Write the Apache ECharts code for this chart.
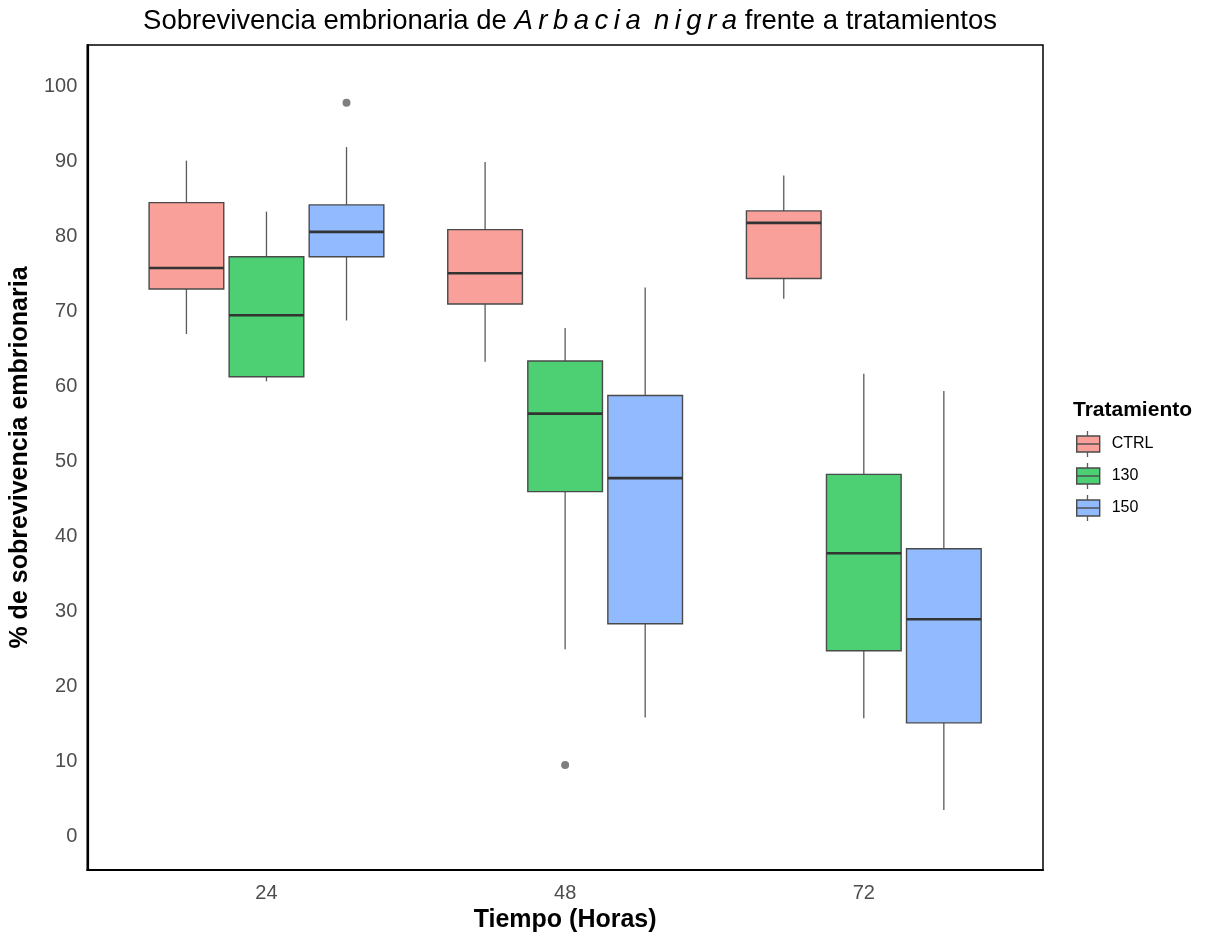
<!DOCTYPE html>
<html>
<head>
<meta charset="utf-8">
<script src="https://cdn.jsdelivr.net/npm/echarts@6/dist/echarts.min.js"></script>
<style>
html,body{margin:0;padding:0;background:#fff;}
#chart{width:1212px;height:940px;}
</style>
</head>
<body>
<div id="chart"></div>
<script>
// ---- data ----
const categories = ['24', '48', '72'];
const treatments = ['CTRL', '130', '150'];
// each row: [lowerWhisker, Q1, median, Q3, upperWhisker] per time category
const ctrlStats = [
  [67.0, 73.0, 75.8, 84.5, 90.1],
  [63.3, 71.0, 75.1, 80.9, 89.9],
  [71.7, 74.4, 81.8, 83.4, 88.1]
];
const t130Stats = [
  [60.7, 61.3, 69.5, 77.3, 83.3],
  [25.0, 46.0, 56.4, 63.4, 67.8],
  [15.8, 24.8, 37.8, 48.3, 61.7]
];
const t150Stats = [
  [68.8, 77.3, 80.6, 84.2, 91.9],
  [15.9, 28.4, 47.8, 58.8, 73.2],
  [3.6, 15.2, 29.0, 38.4, 59.4]
];
const outlierCats = ['24', '48'];
const outlierTrts = ['150', '130'];
const outlierVals = [97.8, 9.6];
const yTicks = [0, 10, 20, 30, 40, 50, 60, 70, 80, 90, 100];

const fillColors = ['#F9A09A', '#4DCF74', '#91BAFF'];
const statsByTrt = [ctrlStats, t130Stats, t150Stats];
const dodge = 0.268;      // spacing between dodged boxes (category units)
const boxW = 0.25;        // box width (category units)
const offsets = [-dodge, 0, dodge];

function renderBox(params, api) {
  const x = api.value(0);
  const lo = api.value(1), q1 = api.value(2), med = api.value(3), q3 = api.value(4), hi = api.value(5);
  const pLo = api.coord([x, lo]);
  const pQ1 = api.coord([x, q1]);
  const pMed = api.coord([x, med]);
  const pQ3 = api.coord([x, q3]);
  const pHi = api.coord([x, hi]);
  const hw = api.size([boxW, 0])[0] / 2;
  const cx = pMed[0];
  const fill = api.visual('color');
  return {
    type: 'group',
    children: [
      { type: 'line', shape: { x1: cx, y1: pHi[1], x2: cx, y2: pQ3[1] }, style: { stroke: '#5a5a5a', lineWidth: 1.3 } },
      { type: 'line', shape: { x1: cx, y1: pQ1[1], x2: cx, y2: pLo[1] }, style: { stroke: '#5a5a5a', lineWidth: 1.3 } },
      { type: 'rect', shape: { x: cx - hw, y: pQ3[1], width: 2 * hw, height: pQ1[1] - pQ3[1] },
        style: { fill: fill, stroke: '#4a4a4a', lineWidth: 1.4 } },
      { type: 'line', shape: { x1: cx - hw, y1: pMed[1], x2: cx + hw, y2: pMed[1] }, style: { stroke: '#333333', lineWidth: 2.6 } }
    ]
  };
}

const series = treatments.map((t, ti) => ({
  name: t,
  type: 'custom',
  renderItem: renderBox,
  itemStyle: { color: fillColors[ti] },
  encode: { x: 0, y: [1, 2, 3, 4, 5] },
  data: statsByTrt[ti].map((s, ci) => [ci + 1 + offsets[ti]].concat(s)),
  z: 2
}));

series.push({
  name: 'outliers',
  type: 'scatter',
  symbol: 'circle',
  symbolSize: 8,
  itemStyle: { color: '#5f5f5f' },
  data: outlierVals.map((v, i) => [categories.indexOf(outlierCats[i]) + 1 + offsets[treatments.indexOf(outlierTrts[i])], v]),
  z: 3
});

// whisker stubs + median line on legend keys
const legendTop = 435, legendItemH = 18, legendGap = 14, legendLeft = 1076, legendKeyW = 23;
const legendKeyX = legendLeft + legendKeyW / 2;
const legendStubs = [];
treatments.forEach((t, i) => {
  const cy = legendTop + legendItemH / 2 + i * (legendItemH + legendGap);
  legendStubs.push({ type: 'line', z: 100, shape: { x1: legendKeyX, y1: cy - 8, x2: legendKeyX, y2: cy - 13 }, style: { stroke: '#5a5a5a', lineWidth: 1.3 } });
  legendStubs.push({ type: 'line', z: 100, shape: { x1: legendKeyX, y1: cy + 8, x2: legendKeyX, y2: cy + 13 }, style: { stroke: '#5a5a5a', lineWidth: 1.3 } });
  legendStubs.push({ type: 'line', z: 100, shape: { x1: legendLeft, y1: cy, x2: legendLeft + legendKeyW, y2: cy }, style: { stroke: '#4a4a4a', lineWidth: 1.4 } });
});

const chart = echarts.init(document.getElementById('chart'), null, { renderer: 'canvas' });
chart.setOption({
  backgroundColor: '#ffffff',
  animation: false,
  textStyle: { fontFamily: 'Liberation Sans, Arial, sans-serif' },
  title: {
    text: '{a|Sobrevivencia embrionaria de }{b|A\u2009r\u2009b\u2009a\u2009c\u2009i\u2009a\u2009 n\u2009i\u2009g\u2009r\u2009a}{a| frente a tratamientos}',
    left: 565,
    textAlign: 'center',
    top: 2,
    textStyle: {
      fontWeight: 'normal',
      rich: {
        a: { fontSize: 27.5, color: '#000', fontWeight: 'normal', fontFamily: 'Liberation Sans, Arial, sans-serif' },
        b: { fontSize: 27.5, color: '#000', fontWeight: 'normal', fontStyle: 'italic', fontFamily: 'Liberation Sans, Arial, sans-serif' }
      }
    }
  },
  legend: {
    data: treatments,
    orient: 'vertical',
    left: legendLeft,
    top: legendTop,
    padding: 0,
    itemWidth: legendKeyW,
    itemHeight: 16,
    itemGap: legendGap,
    icon: 'rect',
    itemStyle: { borderColor: '#4a4a4a', borderWidth: 1.4 },
    textStyle: { fontSize: 16, color: '#000', padding: [0, 0, 0, 7], lineHeight: legendItemH },
    selectedMode: false
  },
  graphic: [
    { type: 'text', left: 1073, top: 400, style: { text: 'Tratamiento', font: 'bold 21px Liberation Sans, Arial, sans-serif', fill: '#000' } }
  ].concat(legendStubs),
  grid: {
    left: 87, right: 169, top: 45, bottom: 70,
    show: true, borderColor: '#000', borderWidth: 1.5, backgroundColor: '#fff'
  },
  xAxis: {
    type: 'value',
    min: 0.4, max: 3.6,
    name: 'Tiempo (Horas)',
    nameLocation: 'middle',
    nameGap: 38,
    nameTextStyle: { fontSize: 25, fontWeight: 'bold', color: '#000' },
    axisLine: { show: true, onZero: false, lineStyle: { color: '#000', width: 2.2 } },
    axisTick: { show: false },
    splitLine: { show: false },
    axisLabel: {
      customValues: [1, 2, 3],
      formatter: v => categories[Math.round(v) - 1],
      fontSize: 20, color: '#4d4d4d', margin: 13
    }
  },
  yAxis: {
    type: 'value',
    min: -4.4, max: 105.5,
    name: '% de sobrevivencia embrionaria',
    nameLocation: 'middle',
    nameGap: 48,
    nameTextStyle: { fontSize: 25, fontWeight: 'bold', color: '#000' },
    axisLine: { show: true, onZero: false, lineStyle: { color: '#000', width: 2.2 } },
    axisTick: { show: false },
    splitLine: { show: false },
    axisLabel: {
      customValues: yTicks,
      fontSize: 20, color: '#4d4d4d', margin: 10
    }
  },
  series: series
});
</script>
</body>
</html>
